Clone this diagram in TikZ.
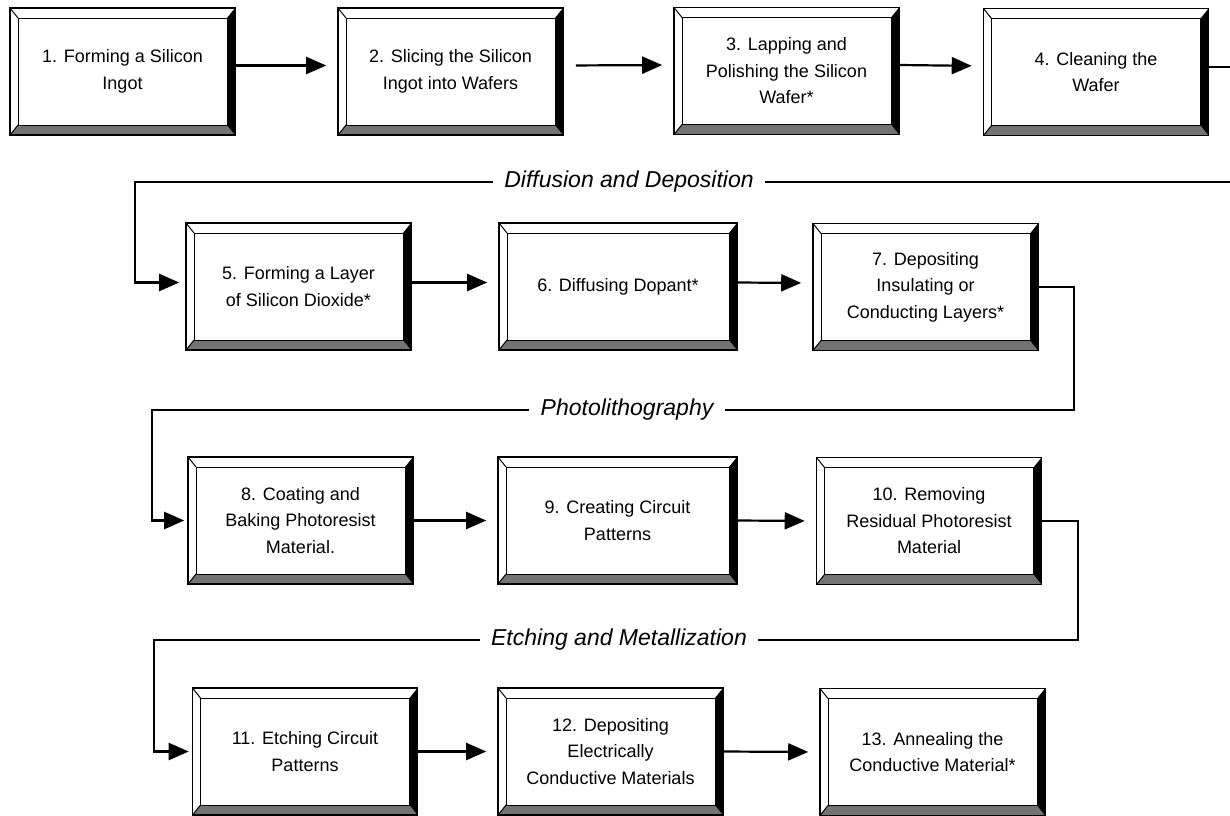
\documentclass[tikz,border=0pt]{standalone}
\usepackage{fontspec}
\setmainfont{Liberation Sans}
\usetikzlibrary{positioning,calc,arrows.meta}

\begin{document}
\begin{tikzpicture}[
    x=1pt, y=-1pt,
    stepbox/.style={
        draw,
        line width=1.6pt,
        fill=white,
        align=center,
        inner sep=0pt,
        minimum width=225pt,
        minimum height=127pt,
        font=\fontsize{18}{26.5}\selectfont,
        path picture={
            \coordinate (bx-ne) at (path picture bounding box.north east);
            \coordinate (bx-nw) at (path picture bounding box.north west);
            \coordinate (bx-se) at (path picture bounding box.south east);
            \coordinate (bx-sw) at (path picture bounding box.south west);
            \fill[black!55] (bx-sw) -- (bx-se) -- ($(bx-se)+(-8pt,10pt)$) -- ($(bx-sw)+(8pt,10pt)$) -- cycle;
            \fill[black] (bx-ne) -- (bx-se) -- ($(bx-se)+(-8pt,10pt)$) -- ($(bx-ne)+(-8pt,-10pt)$) -- cycle;
            \draw[line width=1pt] ($(bx-sw)+(8pt,10pt)$) rectangle ($(bx-ne)+(-8pt,-10pt)$);
            \draw[line width=1pt] (bx-nw) -- ++(8pt,-10pt) (bx-sw) -- ++(8pt,10pt);
        }
    },
    phase/.style={font=\fontsize{23}{27}\selectfont\itshape, inner xsep=11pt},
    link/.style={line width=2.2pt},
    flow/.style={link, -{Triangle[length=20pt,width=17pt]}, shorten >=11pt}
]

\clip (0,0) rectangle (1230,815);

% row 1
\node[stepbox] (b1) at (122.5,71.5) {1. Forming a Silicon\\Ingot};
\node[stepbox] (b2) at (450.5,71.5) {2. Slicing the Silicon\\Ingot into Wafers};
\node[stepbox] (b3) at (786.5,71) {3. Lapping and\\Polishing the Silicon\\Wafer*};
\node[stepbox] (b4) at (1096,72) {4. Cleaning the\\Wafer};

% row 2
\node[phase] (lab1) at (629,182) {Diffusion and Deposition};
\node[stepbox] (b5) at (298.5,286.5) {5. Forming a Layer\\of Silicon Dioxide*};
\node[stepbox, minimum width=238pt] (b6) at (618,286.5) {6. Diffusing Dopant*};
\node[stepbox] (b7) at (925.5,287) {7. Depositing\\Insulating or\\Conducting Layers*};

% row 3
\node[phase] (lab2) at (627,410) {Photolithography};
\node[stepbox] (b8) at (300.5,520.5) {8. Coating and\\Baking Photoresist\\Material.};
\node[stepbox, minimum width=239pt] (b9) at (617.5,520.5) {9. Creating Circuit\\Patterns};
\node[stepbox] (b10) at (929,521) {10. Removing\\Residual Photoresist\\Material};

% row 4
\node[phase] (lab3) at (619,640) {Etching and Metallization};
\node[stepbox] (b11) at (305,751.5) {11. Etching Circuit\\Patterns};
\node[stepbox] (b12) at (610.5,751.5) {12. Depositing\\Electrically\\Conductive Materials};
\node[stepbox] (b13) at (932.5,752) {13. Annealing the\\Conductive Material*};

\draw[flow] ([yshift=6pt]b1.east) -- ([yshift=6pt]b2.west);
\draw[flow, shorten <=12pt] ([yshift=6pt]b2.east) -- ([yshift=6pt]b3.west);
\draw[flow] ([yshift=6pt]b3.east) -- ([yshift=6pt]b4.west);
\draw[link] ([yshift=5pt]b4.east) -- ++(35,0) |- (lab1.east);
\draw[flow, shorten >=6pt] (lab1.west) -| ([xshift=-50pt,yshift=4pt]b5.west) -- ([yshift=4pt]b5.west);

\draw[flow] ([yshift=4pt]b5.east) -- ([yshift=4pt]b6.west);
\draw[flow] ([yshift=4pt]b6.east) -- ([yshift=4pt]b7.west);
\draw[link] (b7.east) -- ++(35,0) |- (lab2.east);
\draw[flow, shorten >=3pt] (lab2.west) -| ([xshift=-35pt]b8.west) -- (b8.west);

\draw[flow] (b8.east) -- (b9.west);
\draw[flow] (b9.east) -- (b10.west);
\draw[link] (b10.east) -- ++(36,0) |- (lab3.east);
\draw[flow, shorten >=3pt] (lab3.west) -| ([xshift=-38pt]b11.west) -- (b11.west);

\draw[flow] (b11.east) -- (b12.west);
\draw[flow] (b12.east) -- (b13.west);

\end{tikzpicture}
\end{document}
